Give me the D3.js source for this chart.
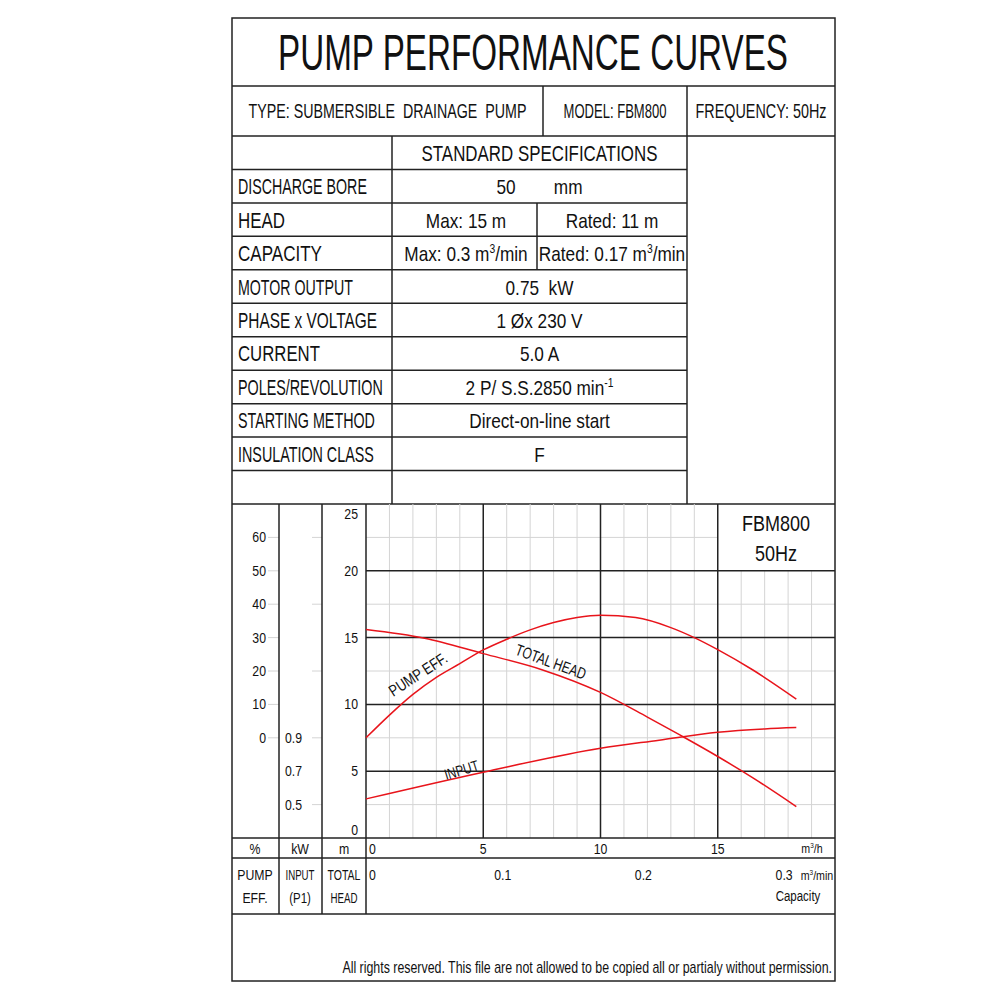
<!DOCTYPE html>
<html>
<head>
<meta charset="utf-8">
<script src="https://cdn.jsdelivr.net/npm/d3@7"></script>
<style>
  body { margin: 0; background: #fff; }
  text { font-family: 'Liberation Sans', Arial, sans-serif; fill: #111; white-space: pre; }
</style>
</head>
<body>
<div id="chart"></div>
<script>
'use strict';

// curves: [flow m3/h, value]
const headCurve = [[0, 15.6], [2.5, 14.95], [5, 13.8], [7.5, 12.6], [10, 10.9], [12, 9.05], [13.5, 7.6], [15, 6.1], [16.5, 4.5], [18.35, 2.35]];
const effCurve = [[0, 0], [1, 6.8], [2, 13], [3, 18.1], [4, 22.2], [5, 26.3], [6, 29.5], [7, 32.3], [8, 34.5], [9, 36], [10, 36.7], [11.5, 36], [13, 33], [14, 30], [15, 26.4], [16.5, 20.3], [18.35, 11.6]];
const inputCurve = [[0, 0.534], [5, 0.694], [10, 0.838], [12.5, 0.886], [15, 0.933], [17, 0.953], [18.35, 0.961]];

const headTicks = [0, 5, 10, 15, 20, 25];
const effTicks = [0, 10, 20, 30, 40, 50, 60];
const inputTicks = [0.5, 0.7, 0.9];
const flowTicks = [0, 5, 10, 15];
const capacityTicks = [0, 0.1, 0.2, 0.3];

const title = 'PUMP PERFORMANCE CURVES';
const infoRow = ['TYPE: SUBMERSIBLE  DRAINAGE  PUMP', 'MODEL: FBM800', 'FREQUENCY: 50Hz'];
const specHeader = 'STANDARD SPECIFICATIONS';
const specLabels = ['DISCHARGE BORE', 'HEAD', 'CAPACITY', 'MOTOR OUTPUT', 'PHASE x VOLTAGE', 'CURRENT', 'POLES/REVOLUTION', 'STARTING METHOD', 'INSULATION CLASS', ''];
const specValues = [
  ['50        mm'],
  ['Max: 15 m', 'Rated: 11 m'],
  ['Max: 0.3 m{3}/min', 'Rated: 0.17 m{3}/min'],
  ['0.75  kW'],
  ['1 Øx 230 V'],
  ['5.0 A'],
  ['2 P/ S.S.2850 min{-1}'],
  ['Direct-on-line start'],
  ['F'],
  ['']
];
const curveNames = ['PUMP EFF.', 'TOTAL HEAD', 'INPUT'];
const modelTag = ['FBM800', '50Hz'];
const footer = 'All rights reserved. This file are not allowed to be copied all or partialy without permission.';

const W = 1000, H = 1000;
const frameL = 232, frameR = 835, frameT = 18, frameB = 981;
const ink = '#222', light = '#d4d4d4', red = '#e8141b';
const narrow = 0.82; // the drawing uses a narrow sans face

const svg = d3.select('#chart').append('svg')
  .attr('width', W).attr('height', H);

svg.append('rect').attr('width', W).attr('height', H).attr('fill', '#fff');

function hline(yy, x1, x2, color, w) {
  svg.append('line').attr('x1', x1).attr('x2', x2).attr('y1', yy).attr('y2', yy)
    .attr('stroke', color || ink).attr('stroke-width', w || 1.5);
}
function vline(xx, y1, y2, color, w) {
  svg.append('line').attr('x1', xx).attr('x2', xx).attr('y1', y1).attr('y2', y2)
    .attr('stroke', color || ink).attr('stroke-width', w || 1.5);
}
// text with {superscript} parts; squeezed, or squeezed to a measured width (caps run narrower)
function label(xx, yy, str, size, anchor, rot, width) {
  const t = svg.append('text')
    .attr('font-size', size).attr('text-anchor', anchor || 'middle');
  const parts = str.split(/\{([^}]*)\}/);
  const lift = size * 0.38;
  let raised = false;
  parts.forEach((p, i) => {
    if (p === '') return;
    const sp = t.append('tspan').text(p);
    if (i % 2 === 1) {
      sp.attr('dy', -lift).attr('font-size', size * 0.6);
      raised = true;
    } else if (raised) {
      sp.attr('dy', lift);
      raised = false;
    }
  });
  let sx = narrow;
  if (width) {
    const len = t.node().getComputedTextLength();
    if (len > 0) sx = width / len;
  }
  let tr = `translate(${xx},${yy})`;
  if (rot) tr += ` rotate(${rot})`;
  t.attr('transform', tr + ` scale(${sx},1)`);
  return t;
}

// ---- header ----
label(533, 70, title, 50, 'middle', 0, 510);
hline(86, frameL, frameR);
const infoX = [232, 543, 687, 835];
const infoW = [278, 103, 131];
infoRow.forEach((s, i) => label((infoX[i] + infoX[i + 1]) / 2, 118, s, 20, 'middle', 0, infoW[i]));
vline(543, 86, 136); vline(687, 86, 136);
hline(136, frameL, frameR);

// ---- spec table ----
const rowY = d3.scaleLinear().domain([0, 11]).range([136, 504]);
const labelW = [129, 47, 84, 115, 139, 82, 145, 137, 136, 0];
label(539.5, rowY(0.5) + 8, specHeader, 22, 'middle', 0, 236);
specLabels.forEach((s, i) => {
  const yMid = rowY(i + 1.5);
  hline(rowY(i + 1), frameL, 687);
  if (s) label(238, yMid + 8, s, 22, 'start', 0, labelW[i]);
  const vals = specValues[i];
  if (vals.length === 1) {
    label(539.5, yMid + 8, vals[0], 21);
  } else {
    label(466, yMid + 8, vals[0], 21);
    label(612, yMid + 8, vals[1], 21);
    vline(537, rowY(i + 1), rowY(i + 2));
  }
});
vline(392, 136, 504);
vline(687, 136, 504);
hline(504, frameL, frameR);

// ---- chart ----
const x = d3.scaleLinear().domain([0, 20]).range([366, 835]);
const y = d3.scaleLinear().domain([0, 25]).range([838, 504]);
const yEff = d3.scaleLinear().domain([0, 60]).range([y(7.5), y(22.5)]);
const yIn = d3.scaleLinear().domain([0.5, 0.9]).range([y(2.5), y(7.5)]);
const xMin = d3.scaleLinear().domain([0, 0.3]).range([x(0), x(18)]);

// minor grid (skipping the model box in the top right)
d3.range(1, 20).filter(v => v % 5 !== 0).forEach(v => {
  vline(x(v), v > 15 ? y(20) : y(25), y(0), light, 1);
});
d3.range(2.5, 25, 5).forEach(v => {
  hline(y(v), x(0), v > 20 ? x(15) : x(20), light, 1);
  hline(y(v), 312, 322, light, 1);
});
effTicks.forEach(v => hline(yEff(v), 268, 279, light, 1));

// major grid
[5, 10, 15].forEach(v => vline(x(v), y(25), y(0)));
[5, 10, 15, 20].forEach(v => hline(y(v), x(0), x(20)));

label(776, 531, modelTag[0], 22);
label(776, 561, modelTag[1], 22);

// column lines
vline(279, 504, 914);
vline(322, 504, 914);
vline(366, 504, 914);

// axis labels on the left
headTicks.forEach(v => {
  const yy = Math.min(Math.max(y(v) + 5, 519), 835);
  label(358, yy, String(v), 15, 'end');
});
effTicks.forEach(v => label(266, yEff(v) + 5, String(v), 15, 'end'));
inputTicks.forEach(v => label(285, yIn(v) + 5, d3.format('.1f')(v), 15, 'start'));

// curves
const line = d3.line().curve(d3.curveMonotoneX);
svg.append('path')
  .attr('d', line(headCurve.map(d => [x(d[0]), y(d[1])])))
  .attr('fill', 'none').attr('stroke', red).attr('stroke-width', 1.5);
svg.append('path')
  .attr('d', line(effCurve.map(d => [x(d[0]), yEff(d[1])])))
  .attr('fill', 'none').attr('stroke', red).attr('stroke-width', 1.5);
svg.append('path')
  .attr('d', line(inputCurve.map(d => [x(d[0]), yIn(d[1])])))
  .attr('fill', 'none').attr('stroke', red).attr('stroke-width', 1.5);

label(421, 679, curveNames[0], 16, 'middle', -33, 66);
label(549, 667, curveNames[1], 16, 'middle', 20, 74);
label(463, 775, curveNames[2], 15, 'middle', -17, 35);

// bottom label rows
hline(838, frameL, frameR);
hline(858, frameL, frameR);
hline(914, frameL, frameR);

label(255, 854, '%', 15);
label(300, 854, 'kW', 15);
label(344, 854, 'm', 15);
flowTicks.forEach(v => label(v === 0 ? x(v) + 3 : x(v), 854, String(v), 15, v === 0 ? 'start' : 'middle'));
label(812, 853, 'm{3}/h', 13);

label(255, 880, 'PUMP', 15);
label(255, 903, 'EFF.', 15);
label(300, 880, 'INPUT', 14, 'middle', 0, 29);
label(300, 903, '(P1)', 14);
label(344, 880, 'TOTAL', 14, 'middle', 0, 33);
label(344, 903, 'HEAD', 14, 'middle', 0, 27);
capacityTicks.forEach(v => label(v === 0 ? xMin(v) + 3 : xMin(v) - 4, 880, v === 0 ? '0' : d3.format('.1f')(v), 15, v === 0 ? 'start' : 'middle'));
label(817, 880, 'm{3}/min', 13);
label(798, 901, 'Capacity', 14);

// footer
label(832, 973, footer, 16, 'end', 0, 490);

// outer frame
svg.append('rect').attr('x', frameL).attr('y', frameT)
  .attr('width', frameR - frameL).attr('height', frameB - frameT)
  .attr('fill', 'none').attr('stroke', ink).attr('stroke-width', 1.5);
</script>
</body>
</html>
